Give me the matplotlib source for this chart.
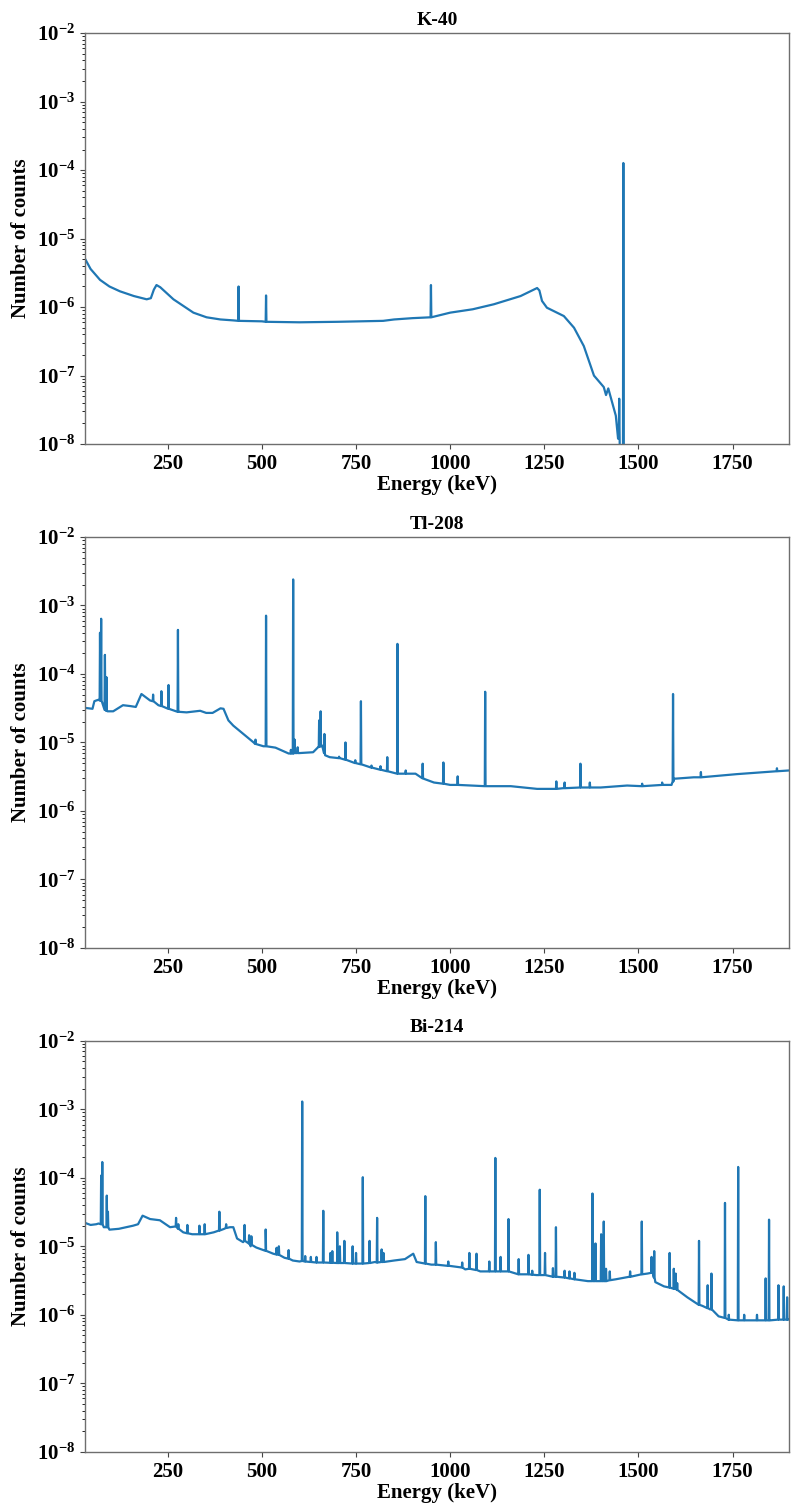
import numpy as np
import matplotlib
matplotlib.use("Agg")
import matplotlib.pyplot as plt

plt.rcParams['font.family'] = ['Liberation Serif', 'DejaVu Serif']
plt.rcParams['font.weight'] = 'bold'
plt.rcParams['axes.titleweight'] = 'bold'
plt.rcParams['axes.labelweight'] = 'bold'
plt.rcParams['mathtext.fontset'] = 'custom'
plt.rcParams['mathtext.rm'] = 'Liberation Serif:bold'
plt.rcParams['mathtext.bf'] = 'Liberation Serif:bold'

# K-40 : continuum points (keV, counts) and peaks (keV, top, base)
k40_cont_e = [30, 45, 70, 95, 123, 160, 194, 205, 213, 220, 230, 265, 318, 353, 390,
              424, 500, 600, 700, 822, 851, 900, 1000, 1060, 1116, 1187, 1231, 1237,
              1244, 1257, 1302, 1329, 1355, 1382, 1408, 1414, 1420, 1440, 1446, 1451, 1465]
k40_cont_y = [5.1e-6, 3.6e-6, 2.5e-6, 2.0e-6, 1.7e-6, 1.45e-6, 1.3e-6, 1.35e-6, 1.8e-6,
              2.1e-6, 1.95e-6, 1.3e-6, 8.3e-7, 7.1e-7, 6.6e-7, 6.4e-7, 6.2e-7, 6.0e-7,
              6.1e-7, 6.3e-7, 6.6e-7, 6.9e-7, 8.3e-7, 9.3e-7, 1.1e-6, 1.45e-6, 1.9e-6,
              1.75e-6, 1.23e-6, 9.8e-7, 7.4e-7, 5.0e-7, 2.7e-7, 1.0e-7, 6.8e-8, 5.2e-8,
              6.5e-8, 2.6e-8, 1.2e-8, 5e-9, 5e-9]
k40_peak_e = [438, 511, 949, 1449, 1460]
k40_peak_top = [2.0e-6, 1.48e-6, 2.1e-6, 4.6e-8, 1.27e-4]
k40_peak_base = [6.3e-7, 6.1e-7, 7.1e-7, 1.5e-8, 5e-9]

# Tl-208
tl_cont_e = [30, 50, 55, 60, 66, 90, 105, 131, 150, 165, 180, 203, 225, 251, 280, 300,
             336, 352, 369, 390, 398, 411, 424, 478, 504, 536, 571, 600, 636, 649, 660,
             668, 680, 707, 747, 790, 814, 850, 908, 930, 957, 1000, 1092, 1161, 1231,
             1300, 1400, 1470, 1563, 1588, 1594, 1647, 1762, 1867, 1900]
tl_cont_y = [3.2e-5, 3.1e-5, 4.0e-5, 4.1e-5, 4.2e-5, 2.85e-5, 2.85e-5, 3.5e-5, 3.4e-5,
             3.3e-5, 5.1e-5, 4.1e-5, 3.5e-5, 3.1e-5, 2.8e-5, 2.75e-5, 2.9e-5, 2.7e-5,
             2.7e-5, 3.15e-5, 3.1e-5, 2.1e-5, 1.76e-5, 1.0e-5, 8.8e-6, 8.4e-6, 6.9e-6,
             7.0e-6, 7.2e-6, 8.5e-6, 9.0e-6, 6.5e-6, 6.1e-6, 5.9e-6, 5.0e-6, 4.3e-6,
             4.0e-6, 3.6e-6, 3.5e-6, 2.95e-6, 2.6e-6, 2.4e-6, 2.3e-6, 2.3e-6, 2.1e-6,
             2.15e-6, 2.2e-6, 2.35e-6, 2.4e-6, 2.4e-6, 2.95e-6, 3.1e-6, 3.45e-6, 3.8e-6,
             3.9e-6]
tl_peak_e = [70, 73, 83, 87, 211, 233, 252, 277, 483, 511, 577, 583, 587, 595, 652, 656,
             666, 705, 722, 748, 763, 791, 815, 833, 860, 882, 927, 982, 1020, 1093, 1282,
             1304, 1346, 1371, 1510, 1563, 1592, 1666, 1868]
tl_peak_top = [4.0e-4, 6.4e-4, 1.9e-4, 9.0e-5, 5.0e-5, 5.6e-5, 6.9e-5, 4.4e-4, 1.1e-5,
               7.1e-4, 7.8e-6, 2.4e-3, 1.1e-5, 8.5e-6, 2.1e-5, 2.85e-5, 1.33e-5, 6.2e-6,
               1.0e-5, 5.5e-6, 4.0e-5, 4.6e-6, 4.5e-6, 6.1e-6, 2.75e-4, 3.9e-6, 4.9e-6,
               5.1e-6, 3.2e-6, 5.5e-5, 2.7e-6, 2.6e-6, 4.9e-6, 2.6e-6, 2.5e-6, 2.6e-6,
               5.1e-5, 3.7e-6, 4.2e-6]
tl_peak_base = [4.1e-5, 4.1e-5, 3.0e-5, 2.9e-5, 4.0e-5, 3.4e-5, 3.1e-5, 2.8e-5, 9.5e-6,
                8.8e-6, 6.9e-6, 6.9e-6, 7.0e-6, 7.0e-6, 8.6e-6, 8.8e-6, 7.0e-6, 5.9e-6,
                5.6e-6, 5.0e-6, 4.8e-6, 4.3e-6, 4.0e-6, 3.8e-6, 3.5e-6, 3.5e-6, 3.0e-6,
                2.5e-6, 2.4e-6, 2.3e-6, 2.1e-6, 2.15e-6, 2.2e-6, 2.2e-6, 2.3e-6, 2.4e-6,
                2.7e-6, 3.1e-6, 3.8e-6]

# Bi-214
bi_cont_e = [30, 45, 60, 66, 80, 95, 120, 158, 171, 183, 203, 229, 256, 291, 315, 340,
             372, 400, 415, 424, 434, 450, 470, 485, 510, 530, 560, 582, 600, 650, 700,
             760, 800, 851, 880, 902, 911, 950, 991, 1019, 1040, 1080, 1130, 1181, 1230,
             1280, 1330, 1366, 1400, 1440, 1480, 1524, 1538, 1545, 1568, 1600, 1630,
             1652, 1670, 1690, 1713, 1740, 1770, 1800, 1850, 1900]
bi_cont_y = [2.2e-5, 2.05e-5, 2.1e-5, 2.15e-5, 1.9e-5, 1.75e-5, 1.8e-5, 2.0e-5, 2.1e-5,
             2.8e-5, 2.5e-5, 2.4e-5, 1.9e-5, 1.6e-5, 1.5e-5, 1.5e-5, 1.6e-5, 1.8e-5,
             1.9e-5, 1.9e-5, 1.3e-5, 1.15e-5, 1.0e-5, 9.6e-6, 8.6e-6, 7.8e-6, 6.8e-6,
             6.2e-6, 6.0e-6, 5.8e-6, 5.7e-6, 5.6e-6, 5.9e-6, 6.2e-6, 6.5e-6, 7.8e-6,
             5.9e-6, 5.4e-6, 5.2e-6, 5.0e-6, 4.6e-6, 4.3e-6, 4.3e-6, 3.9e-6, 3.8e-6,
             3.6e-6, 3.3e-6, 3.1e-6, 3.1e-6, 3.3e-6, 3.6e-6, 4.0e-6, 4.1e-6, 3.0e-6,
             2.6e-6, 2.4e-6, 1.8e-6, 1.5e-6, 1.35e-6, 1.2e-6, 9.5e-7, 8.5e-7, 8.3e-7,
             8.3e-7, 8.3e-7, 8.5e-7]
bi_peak_e = [73, 76, 88, 91, 272, 278, 302, 334, 348, 387, 405, 454, 466, 472, 510, 539,
             545, 571, 607, 615, 630, 645, 663, 682, 687, 700, 707, 719, 741, 750, 768,
             786, 806, 818, 823, 934, 962, 995, 1032, 1051, 1070, 1104, 1120, 1134, 1155,
             1182, 1208, 1218, 1238, 1252, 1273, 1281, 1304, 1317, 1330, 1378, 1386,
             1401, 1408, 1414, 1424, 1478, 1509, 1535, 1542, 1583, 1594, 1599, 1603,
             1661, 1684, 1694, 1730, 1740, 1765, 1781, 1815, 1838, 1847, 1872, 1886, 1895]
bi_peak_top = [1.08e-4, 1.7e-4, 5.5e-5, 3.2e-5, 2.6e-5, 2.1e-5, 2.05e-5, 2.0e-5, 2.1e-5,
               3.2e-5, 2.1e-5, 2.05e-5, 1.45e-5, 1.4e-5, 1.76e-5, 9.5e-6, 1.0e-5, 8.8e-6,
               1.3e-3, 7.2e-6, 7.0e-6, 7.0e-6, 3.3e-5, 8.0e-6, 8.5e-6, 1.6e-5, 1.0e-5,
               1.2e-5, 1.0e-5, 8.0e-6, 1.02e-4, 1.2e-5, 2.6e-5, 9.0e-6, 8.0e-6, 5.4e-5,
               1.15e-5, 6.0e-6, 5.8e-6, 8.0e-6, 7.8e-6, 6.0e-6, 1.95e-4, 7.0e-6, 2.5e-5,
               6.5e-6, 7.5e-6, 4.4e-6, 6.7e-5, 8.0e-6, 4.8e-6, 1.9e-5, 4.4e-6, 4.3e-6,
               4.1e-6, 5.9e-5, 1.1e-5, 1.5e-5, 2.3e-5, 4.7e-6, 4.3e-6, 4.3e-6, 2.3e-5,
               7.0e-6, 8.5e-6, 8.0e-6, 4.7e-6, 4.0e-6, 2.9e-6, 1.2e-5, 2.7e-6, 4.0e-6,
               4.3e-5, 1.0e-6, 1.44e-4, 1.0e-6, 1.0e-6, 3.4e-6, 2.45e-5, 2.7e-6, 2.6e-6,
               1.8e-6]
bi_peak_base = [2.1e-5, 2.1e-5, 1.9e-5, 1.9e-5, 1.95e-5, 1.8e-5, 1.55e-5, 1.5e-5, 1.5e-5,
                1.7e-5, 1.85e-5, 1.2e-5, 1.1e-5, 1.05e-5, 8.6e-6, 7.6e-6, 7.5e-6, 6.6e-6,
                6.1e-6, 6.0e-6, 5.9e-6, 5.8e-6, 5.8e-6, 5.75e-6, 5.75e-6, 5.7e-6, 5.7e-6,
                5.7e-6, 5.6e-6, 5.6e-6, 5.6e-6, 5.7e-6, 5.8e-6, 5.9e-6, 5.9e-6, 5.6e-6,
                5.4e-6, 5.2e-6, 4.9e-6, 4.7e-6, 4.5e-6, 4.3e-6, 4.3e-6, 4.3e-6, 4.3e-6,
                3.9e-6, 3.9e-6, 3.85e-6, 3.8e-6, 3.8e-6, 3.6e-6, 3.6e-6, 3.5e-6, 3.4e-6,
                3.3e-6, 3.1e-6, 3.1e-6, 3.1e-6, 3.1e-6, 3.1e-6, 3.2e-6, 3.6e-6, 3.9e-6,
                4.1e-6, 3.5e-6, 2.5e-6, 2.4e-6, 2.4e-6, 2.3e-6, 1.4e-6, 1.25e-6, 1.2e-6,
                9.0e-7, 8.5e-7, 8.3e-7, 8.3e-7, 8.3e-7, 8.3e-7, 8.3e-7, 8.5e-7, 8.5e-7,
                8.5e-7]

titles = ['K-40', 'Tl-208', 'Bi-214']
spectra = [
    (k40_cont_e, k40_cont_y, k40_peak_e, k40_peak_top, k40_peak_base),
    (tl_cont_e, tl_cont_y, tl_peak_e, tl_peak_top, tl_peak_base),
    (bi_cont_e, bi_cont_y, bi_peak_e, bi_peak_top, bi_peak_base),
]


def build_line(cont_e, cont_y, pk_e, pk_top, pk_base, hw=1.0):
    # continuum points plus a narrow spike for every peak, sorted by energy
    e = list(cont_e)
    y = list(cont_y)
    for pe, pt, pb in zip(pk_e, pk_top, pk_base):
        e += [pe - hw, pe, pe + hw]
        y += [pb, pt, pb]
    order = np.argsort(e, kind='stable')
    return np.array(e)[order], np.array(y)[order]


fig, axes = plt.subplots(3, 1, figsize=(7.94, 15.06), dpi=100)
fig.subplots_adjust(left=0.107, right=0.9937, top=0.978, bottom=0.036, hspace=0.226)

for ax, title, spec in zip(axes, titles, spectra):
    x, y = build_line(*spec)
    ax.plot(x, y, color='#1f77b4', lw=1.6)
    ax.set_yscale('log')
    ax.set_ylim(1e-8, 1e-2)
    ax.set_xlim(30, 1900)
    ax.set_xticks([250, 500, 750, 1000, 1250, 1500, 1750])
    ax.set_title(title, fontsize=14, fontweight='bold')
    ax.set_xlabel('Energy (keV)', fontsize=15, fontweight='bold', labelpad=1)
    ax.set_ylabel('Number of counts', fontsize=15, fontweight='bold')
    ax.tick_params(labelsize=15, colors='#444444', labelcolor='black')
    for sp in ax.spines.values():
        sp.set_color('#6e6e6e')
        sp.set_linewidth(1.0)

fig.savefig('out.png', dpi=100)
